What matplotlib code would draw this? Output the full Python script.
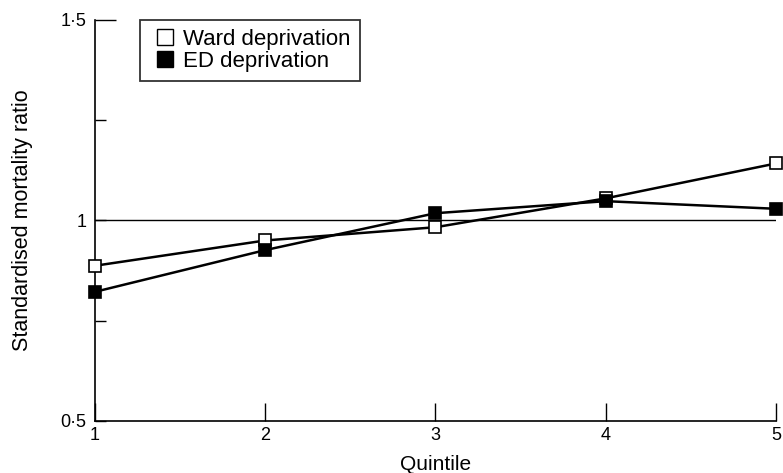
import matplotlib
matplotlib.use('Agg')
import matplotlib.pyplot as plt
from matplotlib.lines import Line2D

plt.rcParams['font.family'] = ['Liberation Sans', 'DejaVu Sans']

quintile = [1, 2, 3, 4, 5]
ward = [0.887, 0.950, 0.983, 1.055, 1.142]
ed = [0.822, 0.926, 1.018, 1.048, 1.029]
ytick_vals = [0.5, 0.75, 1.0, 1.25, 1.5]
ytick_labels = ['0·5', '', '1', '', '1·5']

fig = plt.figure(figsize=(7.83, 4.73), dpi=100)
ax = fig.add_axes([0.1213, 0.110, 0.8697, 0.848])

ax.axhline(1.0, color='black', lw=1.0, zorder=1)
ax.plot(quintile, ward, color='black', lw=1.8, marker='s', ms=9,
        mfc='white', mec='black', mew=1.2, clip_on=False, zorder=3)
ax.plot(quintile, ed, color='black', lw=1.8, marker='s', ms=9,
        mfc='black', mec='black', mew=1.2, clip_on=False, zorder=4)

ax.set_xlim(1, 5)
ax.set_ylim(0.5, 1.5)
ax.set_xticks(quintile)
ax.set_yticks(ytick_vals)
ax.set_yticklabels(ytick_labels)
ax.tick_params(axis='x', direction='in', length=13, width=1, labelsize=13, pad=4)
ax.tick_params(axis='y', direction='in', length=8, width=1, labelsize=13, pad=6)
# longer tick at the top
ax.yaxis.get_major_ticks()[-1].tick1line.set_markersize(15)

for s in ['top', 'right']:
    ax.spines[s].set_visible(False)
for s in ['left', 'bottom']:
    ax.spines[s].set_linewidth(1.2)

ax.set_xlabel('Quintile', fontsize=15, labelpad=8)
ax.set_ylabel('Standardised mortality ratio', fontsize=15.5, labelpad=20)

handles = [Line2D([], [], ls='none', marker='s', ms=11, mfc='white', mec='black', mew=1.0),
           Line2D([], [], ls='none', marker='s', ms=11, mfc='black', mec='black', mew=1.0)]
leg = ax.legend(handles, ['Ward deprivation', 'ED deprivation'], loc='upper left',
                bbox_to_anchor=(0.066, 1.0), fontsize=16, frameon=True, fancybox=False,
                handlelength=1.5, handletextpad=0.05, borderpad=0.4, labelspacing=0.05,
                borderaxespad=0)
leg.get_frame().set_edgecolor('black')
leg.get_frame().set_linewidth(1.3)

fig.savefig('out.png', dpi=100)
